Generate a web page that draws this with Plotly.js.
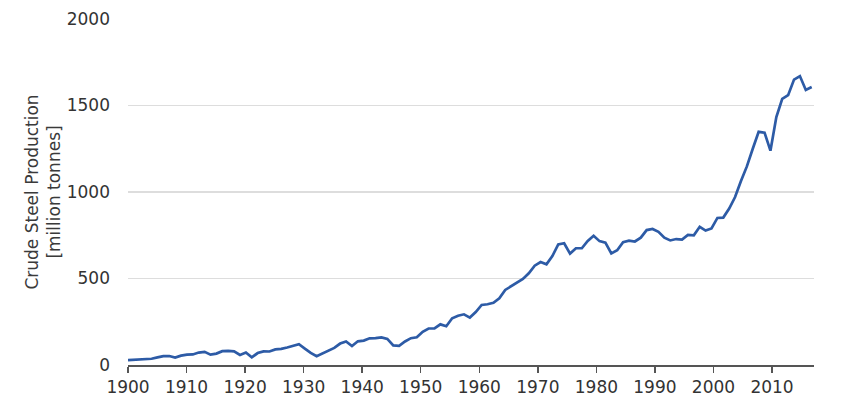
<!DOCTYPE html>
<html>
<head>
<meta charset="utf-8">
<script src="https://cdn.plot.ly/plotly-3.0.1.min.js"></script>
<style>
  html, body { margin: 0; padding: 0; background: #ffffff; }
  #chart { width: 850px; height: 406px; }
</style>
</head>
<body>
<div id="chart"></div>
<script>
// Year of each data point
const years = [
  1900, 1901, 1902, 1903, 1904, 1905, 1906, 1907, 1908, 1909,
  1910, 1911, 1912, 1913, 1914, 1915, 1916, 1917, 1918, 1919,
  1920, 1921, 1922, 1923, 1924, 1925, 1926, 1927, 1928, 1929,
  1930, 1931, 1932, 1933, 1934, 1935, 1936, 1937, 1938, 1939,
  1940, 1941, 1942, 1943, 1944, 1945, 1946, 1947, 1948, 1949,
  1950, 1951, 1952, 1953, 1954, 1955, 1956, 1957, 1958, 1959,
  1960, 1961, 1962, 1963, 1964, 1965, 1966, 1967, 1968, 1969,
  1970, 1971, 1972, 1973, 1974, 1975, 1976, 1977, 1978, 1979,
  1980, 1981, 1982, 1983, 1984, 1985, 1986, 1987, 1988, 1989,
  1990, 1991, 1992, 1993, 1994, 1995, 1996, 1997, 1998, 1999,
  2000, 2001, 2002, 2003, 2004, 2005, 2006, 2007, 2008, 2009,
  2010, 2011, 2012, 2013, 2014, 2015, 2016
];

// Crude steel production, million tonnes
const production = [
  28, 31, 34, 36, 36, 44, 51, 52, 43, 54,
  60, 61, 72, 76, 60, 66, 80, 82, 79, 58,
  72, 44, 69, 79, 78, 90, 93, 101, 110, 120,
  95, 70, 51, 68, 82, 99, 124, 136, 110, 137,
  141, 154, 155, 160, 151, 113, 111, 136, 155, 160,
  192, 211, 212, 235, 224, 270, 285, 293, 274, 306,
  347, 351, 360, 386, 434, 456, 476, 497, 530, 574,
  595, 582, 630, 697, 704, 644, 675, 675, 717, 747,
  716, 707, 645, 663, 710, 719, 714, 736, 780, 786,
  770, 736, 720, 728, 725, 752, 750, 799, 777, 789,
  850, 852, 904, 971, 1063, 1148, 1250, 1348, 1343, 1239,
  1433, 1538, 1560, 1650, 1670, 1590, 1607
];

// Axis ticks
const xTickVals = [1900, 1910, 1920, 1930, 1940, 1950, 1960, 1970, 1980, 1990, 2000, 2010];
const xTickLabels = ["1900", "1910", "1920", "1930", "1940", "1950", "1960", "1970", "1980", "1990", "2000", "2010"];
const yTickVals = [0, 500, 1000, 1500, 2000];
const yTickLabels = ["0", "500", "1000", "1500", "2000"];

const FONT = "DejaVu Sans, Verdana, sans-serif";

const trace = {
  type: "scatter",
  mode: "lines",
  x: years,
  y: production,
  xaxis: "x",
  yaxis: "y",
  line: { color: "#2d5ba6", width: 2.7 },
  hoverinfo: "x+y",
  showlegend: false
};

// empty trace that makes the labelled decade axis exist
const axisHolder = {
  type: "scatter",
  mode: "lines",
  x: [],
  y: [],
  xaxis: "x2",
  yaxis: "y",
  hoverinfo: "skip",
  showlegend: false
};

const layout = {
  width: 850,
  height: 406,
  margin: { l: 128, r: 36, t: 19, b: 41, pad: 0 },
  paper_bgcolor: "#ffffff",
  plot_bgcolor: "#ffffff",
  showlegend: false,
  font: { family: FONT, size: 17, color: "#333333" },
  // data axis (hidden)
  xaxis: {
    range: [1900, 2016.39],
    visible: false,
    fixedrange: true
  },
  // visible time axis with labelled decades
  xaxis2: {
    overlaying: "x",
    anchor: "y",
    side: "bottom",
    range: [1900, 2017.17],
    tickmode: "array",
    tickvals: xTickVals,
    ticktext: xTickLabels,
    ticks: "outside",
    ticklen: 6,
    tickwidth: 1.5,
    tickcolor: "#555555",
    showline: true,
    linecolor: "#555555",
    linewidth: 2,
    showgrid: false,
    zeroline: false,
    tickfont: { family: FONT, size: 17, color: "#333333" },
    fixedrange: true
  },
  yaxis: {
    range: [0, 2000],
    tickmode: "array",
    tickvals: yTickVals,
    ticktext: yTickLabels,
    ticks: "",
    showline: false,
    showgrid: true,
    gridcolor: "#dddddd",
    gridwidth: 1.5,
    zeroline: false,
    ticklabelstandoff: 17,
    tickfont: { family: FONT, size: 17, color: "#333333" },
    title: {
      text: "Crude Steel Production<br>[million tonnes]",
      font: { family: FONT, size: 17, color: "#3a3a3a" },
      standoff: 1
    },
    automargin: false,
    fixedrange: true
  }
};

Plotly.newPlot("chart", [trace, axisHolder], layout, { displayModeBar: false, staticPlot: true });
</script>
</body>
</html>
